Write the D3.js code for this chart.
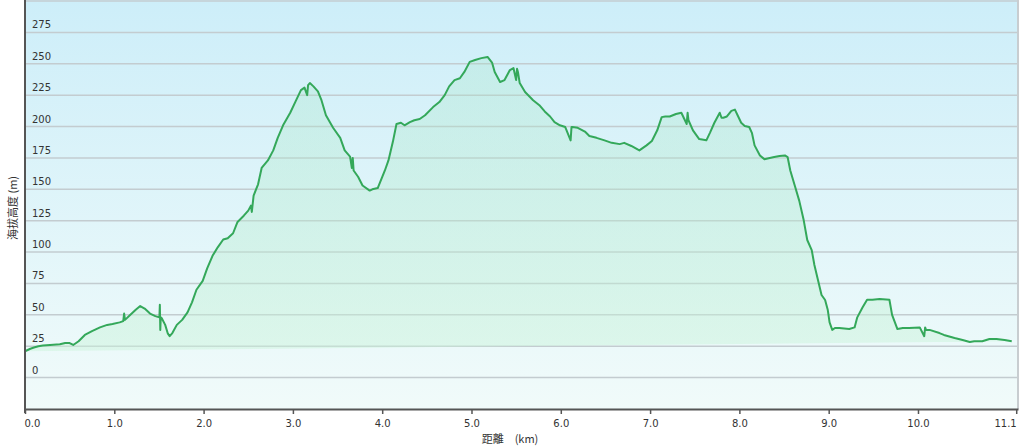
<!DOCTYPE html>
<html><head><meta charset="utf-8">
<script src="https://cdn.jsdelivr.net/npm/d3@7/dist/d3.min.js"></script>
<style>html,body{margin:0;padding:0;background:#fff;}svg{display:block;}</style>
</head><body>
<svg id="c" width="1024" height="448"></svg>
<script>
const distanceKm = [0,0.03,0.06,0.1,0.15,0.2,0.28,0.39,0.45,0.5,0.54,0.6,0.67,0.75,0.84,0.92,0.98,1.06,1.1,1.11,1.12,1.18,1.24,1.29,1.34,1.40,1.46,1.505,1.51,1.515,1.52,1.53,1.57,1.60,1.62,1.65,1.70,1.76,1.82,1.87,1.92,1.99,2.04,2.10,2.16,2.22,2.27,2.33,2.38,2.45,2.50,2.53,2.54,2.56,2.61,2.65,2.72,2.78,2.83,2.89,2.97,3.03,3.09,3.13,3.16,3.17,3.19,3.23,3.28,3.32,3.37,3.45,3.53,3.58,3.64,3.66,3.67,3.68,3.73,3.78,3.86,3.89,3.95,4.03,4.07,4.12,4.16,4.21,4.25,4.31,4.36,4.42,4.48,4.57,4.64,4.70,4.75,4.81,4.87,4.92,4.98,5.04,5.11,5.18,5.23,5.26,5.32,5.37,5.43,5.47,5.50,5.51,5.52,5.54,5.60,5.69,5.76,5.82,5.88,5.93,5.99,6.05,6.11,6.12,6.13,6.19,6.27,6.32,6.40,6.49,6.57,6.66,6.71,6.79,6.88,6.96,7.02,7.08,7.13,7.17,7.22,7.29,7.35,7.41,7.42,7.43,7.48,7.55,7.63,7.67,7.72,7.78,7.80,7.82,7.86,7.91,7.95,7.98,8.02,8.06,8.11,8.14,8.17,8.23,8.28,8.34,8.39,8.45,8.51,8.54,8.57,8.62,8.67,8.72,8.76,8.81,8.84,8.88,8.92,8.96,8.99,9.01,9.04,9.07,9.12,9.23,9.29,9.32,9.38,9.43,9.49,9.57,9.68,9.71,9.77,9.83,9.90,10.02,10.07,10.08,10.09,10.13,10.24,10.29,10.41,10.50,10.58,10.63,10.72,10.80,10.88,10.97,11.05,11.12];
const elevationM = [21,22,23,24,25,25.5,26,26.5,27.5,27.5,26,29,34,37,40,42,42.7,44,45,51,46,50,54,57,55,51,49,48,58,38,48,47.5,42,35,33,35.5,42,46,52,60,70,77,87,97,104,110,111,115,124,129,133,137,132,145,154,167,173,181,191,201,211,220,229,231,225,233,234.6,232,228,221,209,199,191,181,176,167,175,165,160,153,149,150,151,165,173,188,202,203,201,203.5,205,206,209,215.5,219.5,225,232,237,238.5,243.5,251.5,253,254.5,255.4,251,243.5,235.5,237,245,246.6,237,246,243.5,234.6,227.5,221,217,212,208,203.5,201,199.6,189,199.6,199.6,199,196,192.5,191,189,187,186,187,184.5,181,185,188.5,197,207.5,208,208,210,211,202,211,205,197,190,189,195,203,211,207,207,208,212.5,213.5,209,203,200.5,199.6,195,185,177,174,175,175.7,176.5,177,175.7,165,153,141,125.5,109.6,101.6,89.7,77.7,65.8,61.8,53.8,44,38,39.5,39.5,38.7,40,48,56,62,62,62.6,62,50,38.7,39.5,39.5,40,33,40,38,38,35.5,34,31.6,30,28.4,29,29,30.7,30.7,30,29];
const yTicks = [0,25,50,75,100,125,150,175,200,225,250,275];
const xTicks = [0,1,2,3,4,5,6,7,8,9,10,11.1];
const xTitle = "距離　(km)";
const yTitle = "海拔高度 (m)";

const data = distanceKm.map((d,i)=>({d, e: elevationM[i]}));
const svg = d3.select("#c");
const L = 25, R = 1018, T = 1, B = 409;
const x = d3.scaleLinear().domain([0, 11.12]).range([L, R]);
const y = d3.scaleLinear().domain([-25, 300]).range([B, T]);

const defs = svg.append("defs");
const bg = defs.append("linearGradient").attr("id","bg").attr("x1",0).attr("y1",0).attr("x2",0).attr("y2",1);
bg.append("stop").attr("offset","0%").attr("stop-color","#cdeef9");
bg.append("stop").attr("offset","100%").attr("stop-color","#f1fbfa");
const ag = defs.append("linearGradient").attr("id","ag").attr("x1",0).attr("y1",0).attr("x2",0).attr("y2",1);
ag.append("stop").attr("offset","0%").attr("stop-color","#9fe3c0").attr("stop-opacity",0.25);
ag.append("stop").attr("offset","100%").attr("stop-color","#c9f3d8").attr("stop-opacity",0.45);

svg.append("rect").attr("x",L).attr("y",0).attr("width",R-L).attr("height",B).attr("fill","url(#bg)");

// grid
svg.append("g").selectAll("line").data(yTicks.concat([300])).join("line")
  .attr("x1",L).attr("x2",R).attr("y1",d=>y(d)).attr("y2",d=>y(d))
  .attr("stroke","#c3ccd0").attr("stroke-width",1.5);

// area
svg.append("path").datum(data)
  .attr("d", d3.area().x(d=>x(d.d)).y0(B).y1(d=>y(d.e)))
  .attr("fill","url(#ag)");
svg.append("path").datum(data)
  .attr("d", d3.line().x(d=>x(d.d)).y(d=>y(d.e)))
  .attr("fill","none").attr("stroke","#34a85a").attr("stroke-width",2).attr("stroke-linejoin","round");

// right border
svg.append("line").attr("x1",R).attr("x2",R).attr("y1",0).attr("y2",B).attr("stroke","#c8cdd0").attr("stroke-width",2);

// y labels
svg.append("g").selectAll("text").data(yTicks).join("text")
  .attr("x",L+7).attr("y",d=>y(d)-4)
  .attr("font-family","DejaVu Sans, Verdana, sans-serif").attr("font-size",10).attr("fill","#333")
  .text(d=>d);

// x axis
const xAxis = d3.axisBottom(x).tickValues(xTicks).tickFormat(d3.format(".1f")).tickSize(5).tickSizeOuter(0);
const gx = svg.append("g").attr("transform",`translate(0,${B})`).call(xAxis);
gx.select(".domain").attr("stroke","#555").attr("stroke-width",2);
gx.selectAll(".tick line").attr("stroke","#555").attr("stroke-width",1.5);
gx.selectAll(".tick text").attr("font-family","DejaVu Sans, Verdana, sans-serif").attr("font-size",10).attr("fill","#333").attr("dy","1.0em");
gx.selectAll(".tick").filter(d=>d===0).select("text").attr("text-anchor","start").attr("dx",-1);
gx.selectAll(".tick").filter(d=>d===11.1).select("text").attr("text-anchor","end").attr("dx",0);

// left axis line
svg.append("line").attr("x1",L).attr("x2",L).attr("y1",0).attr("y2",B+4).attr("stroke","#555").attr("stroke-width",2);

svg.append("text").attr("x",510).attr("y",443).attr("text-anchor","middle")
  .attr("font-family","Noto Sans CJK TC, DejaVu Sans, sans-serif").attr("font-size",11).attr("fill","#333")
  .attr("xml:space","preserve").text(xTitle);
svg.append("text").attr("transform","translate(17,208) rotate(-90)").attr("text-anchor","middle")
  .attr("font-family","Noto Sans CJK TC, DejaVu Sans, sans-serif").attr("font-size",11).attr("fill","#333")
  .text(yTitle);
</script>
</body></html>
